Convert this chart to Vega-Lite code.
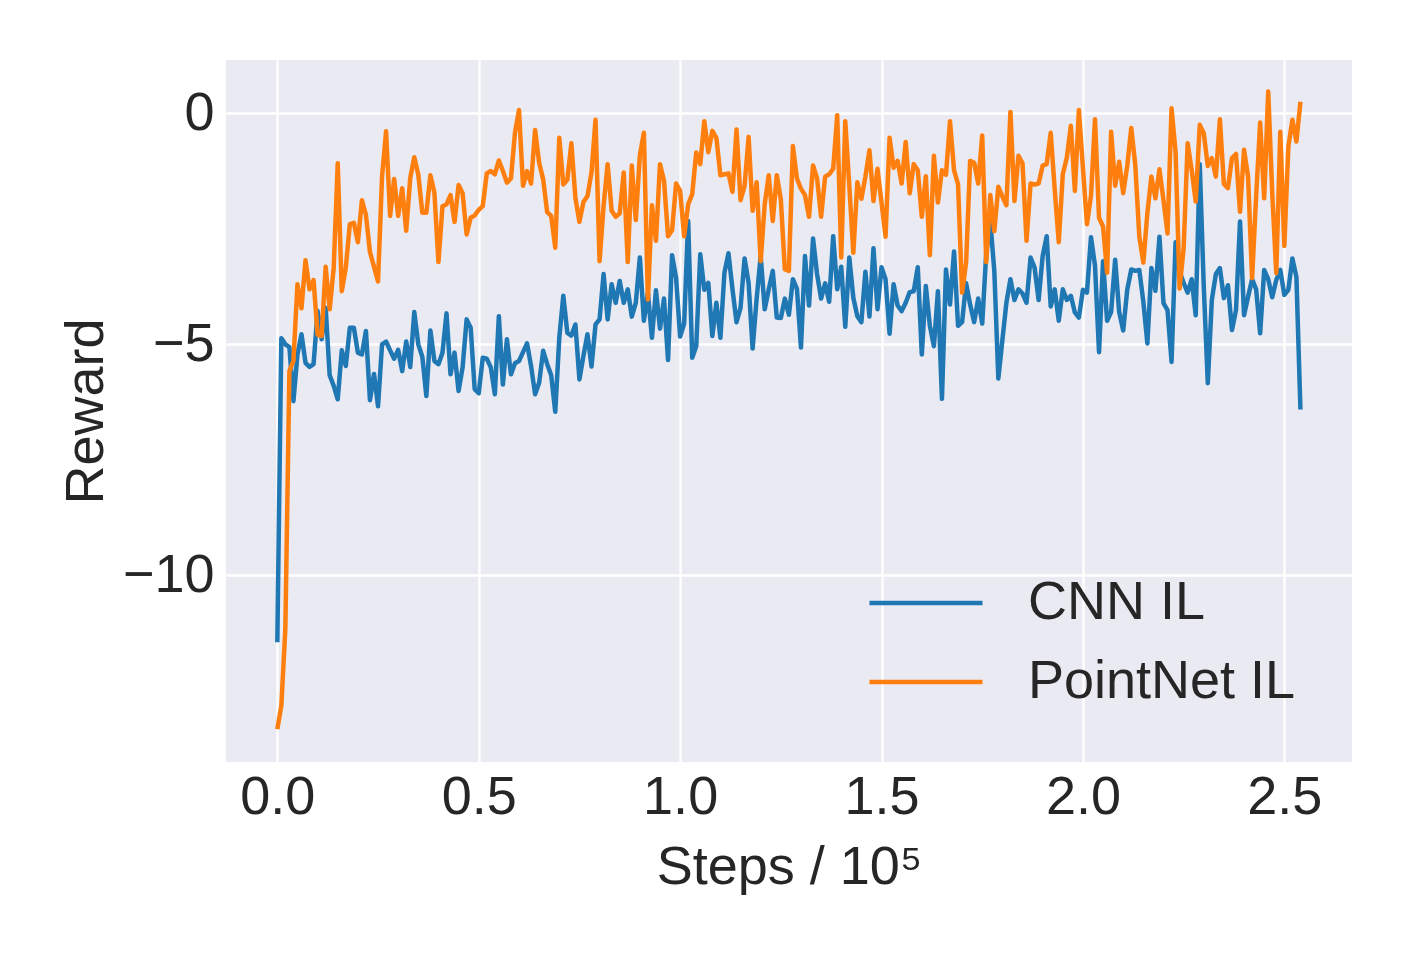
{
"$schema": "https://vega.github.io/schema/vega-lite/v6.json",
"width": 1126, "height": 702,
"autosize": "none",
"padding": {"left": 226, "top": 60, "right": 59, "bottom": 198},
"background": "white",
"data": {"values": [
{"x":0.00,"CNN IL":-11.45,"PointNet IL":-13.33},{"x":0.01,"CNN IL":-4.87,"PointNet IL":-12.82},{"x":0.02,"CNN IL":-5.0,"PointNet IL":-11.14},{"x":0.03,"CNN IL":-5.06,"PointNet IL":-5.58},{"x":0.04,"CNN IL":-6.23,"PointNet IL":-5.36},{"x":0.05,"CNN IL":-5.22,"PointNet IL":-3.7},{"x":0.06,"CNN IL":-4.78,"PointNet IL":-4.22},{"x":0.07,"CNN IL":-5.4,"PointNet IL":-3.18},{"x":0.08,"CNN IL":-5.49,"PointNet IL":-3.81},{"x":0.09,"CNN IL":-5.43,"PointNet IL":-3.61},
{"x":0.10,"CNN IL":-4.28,"PointNet IL":-4.79},{"x":0.11,"CNN IL":-4.89,"PointNet IL":-4.82},{"x":0.12,"CNN IL":-4.21,"PointNet IL":-3.32},{"x":0.13,"CNN IL":-5.67,"PointNet IL":-4.24},{"x":0.14,"CNN IL":-5.9,"PointNet IL":-3.34},{"x":0.15,"CNN IL":-6.19,"PointNet IL":-1.08},{"x":0.16,"CNN IL":-5.13,"PointNet IL":-3.85},{"x":0.17,"CNN IL":-5.47,"PointNet IL":-3.34},{"x":0.18,"CNN IL":-4.64,"PointNet IL":-2.4},{"x":0.19,"CNN IL":-4.64,"PointNet IL":-2.37},
{"x":0.20,"CNN IL":-5.18,"PointNet IL":-2.79},{"x":0.21,"CNN IL":-5.22,"PointNet IL":-1.88},{"x":0.22,"CNN IL":-4.71,"PointNet IL":-2.2},{"x":0.23,"CNN IL":-6.21,"PointNet IL":-3.0},{"x":0.24,"CNN IL":-5.64,"PointNet IL":-3.32},{"x":0.25,"CNN IL":-6.34,"PointNet IL":-3.64},{"x":0.26,"CNN IL":-5.0,"PointNet IL":-1.37},{"x":0.27,"CNN IL":-4.94,"PointNet IL":-0.39},{"x":0.28,"CNN IL":-5.13,"PointNet IL":-2.22},{"x":0.29,"CNN IL":-5.31,"PointNet IL":-1.42},
{"x":0.30,"CNN IL":-5.12,"PointNet IL":-2.22},{"x":0.31,"CNN IL":-5.58,"PointNet IL":-1.62},{"x":0.32,"CNN IL":-4.94,"PointNet IL":-2.54},{"x":0.33,"CNN IL":-5.49,"PointNet IL":-1.4},{"x":0.34,"CNN IL":-4.3,"PointNet IL":-0.95},{"x":0.35,"CNN IL":-5.0,"PointNet IL":-1.33},{"x":0.36,"CNN IL":-5.27,"PointNet IL":-2.15},{"x":0.37,"CNN IL":-6.12,"PointNet IL":-2.15},{"x":0.38,"CNN IL":-4.7,"PointNet IL":-1.34},{"x":0.39,"CNN IL":-5.36,"PointNet IL":-1.72},
{"x":0.40,"CNN IL":-5.43,"PointNet IL":-3.22},{"x":0.41,"CNN IL":-5.18,"PointNet IL":-2.01},{"x":0.42,"CNN IL":-4.33,"PointNet IL":-1.97},{"x":0.43,"CNN IL":-5.65,"PointNet IL":-1.77},{"x":0.44,"CNN IL":-5.18,"PointNet IL":-2.35},{"x":0.45,"CNN IL":-6.01,"PointNet IL":-1.55},{"x":0.46,"CNN IL":-5.5,"PointNet IL":-1.73},{"x":0.47,"CNN IL":-4.46,"PointNet IL":-2.62},{"x":0.48,"CNN IL":-4.64,"PointNet IL":-2.26},{"x":0.49,"CNN IL":-5.97,"PointNet IL":-2.21},
{"x":0.50,"CNN IL":-6.06,"PointNet IL":-2.09},{"x":0.51,"CNN IL":-5.29,"PointNet IL":-2.01},{"x":0.52,"CNN IL":-5.31,"PointNet IL":-1.3},{"x":0.53,"CNN IL":-5.5,"PointNet IL":-1.25},{"x":0.54,"CNN IL":-6.08,"PointNet IL":-1.32},{"x":0.55,"CNN IL":-4.39,"PointNet IL":-1.02},{"x":0.56,"CNN IL":-5.87,"PointNet IL":-1.25},{"x":0.57,"CNN IL":-4.89,"PointNet IL":-1.5},{"x":0.58,"CNN IL":-5.65,"PointNet IL":-1.41},{"x":0.59,"CNN IL":-5.41,"PointNet IL":-0.42},
{"x":0.60,"CNN IL":-5.36,"PointNet IL":0.07},{"x":0.61,"CNN IL":-5.17,"PointNet IL":-1.57},{"x":0.62,"CNN IL":-4.98,"PointNet IL":-1.25},{"x":0.63,"CNN IL":-5.47,"PointNet IL":-1.52},{"x":0.64,"CNN IL":-6.08,"PointNet IL":-0.36},{"x":0.65,"CNN IL":-5.83,"PointNet IL":-1.07},{"x":0.66,"CNN IL":-5.14,"PointNet IL":-1.43},{"x":0.67,"CNN IL":-5.43,"PointNet IL":-2.14},{"x":0.68,"CNN IL":-5.67,"PointNet IL":-2.22},{"x":0.69,"CNN IL":-6.46,"PointNet IL":-2.91},
{"x":0.70,"CNN IL":-4.86,"PointNet IL":-0.53},{"x":0.71,"CNN IL":-3.95,"PointNet IL":-1.54},{"x":0.72,"CNN IL":-4.75,"PointNet IL":-1.44},{"x":0.73,"CNN IL":-4.81,"PointNet IL":-0.65},{"x":0.74,"CNN IL":-4.57,"PointNet IL":-1.83},{"x":0.75,"CNN IL":-5.76,"PointNet IL":-2.35},{"x":0.76,"CNN IL":-5.25,"PointNet IL":-1.92},{"x":0.77,"CNN IL":-4.78,"PointNet IL":-1.79},{"x":0.78,"CNN IL":-5.48,"PointNet IL":-1.28},{"x":0.79,"CNN IL":-4.57,"PointNet IL":-0.14},
{"x":0.80,"CNN IL":-4.46,"PointNet IL":-3.2},{"x":0.81,"CNN IL":-3.48,"PointNet IL":-2.0},{"x":0.82,"CNN IL":-4.46,"PointNet IL":-1.1},{"x":0.83,"CNN IL":-3.7,"PointNet IL":-2.11},{"x":0.84,"CNN IL":-4.1,"PointNet IL":-2.24},{"x":0.85,"CNN IL":-3.63,"PointNet IL":-2.17},{"x":0.86,"CNN IL":-4.1,"PointNet IL":-1.28},{"x":0.87,"CNN IL":-3.81,"PointNet IL":-3.22},{"x":0.88,"CNN IL":-4.4,"PointNet IL":-1.13},{"x":0.89,"CNN IL":-4.1,"PointNet IL":-2.31},
{"x":0.90,"CNN IL":-3.12,"PointNet IL":-0.91},{"x":0.91,"CNN IL":-4.49,"PointNet IL":-0.42},{"x":0.92,"CNN IL":-3.88,"PointNet IL":-4.03},{"x":0.93,"CNN IL":-4.86,"PointNet IL":-1.99},{"x":0.94,"CNN IL":-3.83,"PointNet IL":-2.76},{"x":0.95,"CNN IL":-4.66,"PointNet IL":-1.1},{"x":0.96,"CNN IL":-4.01,"PointNet IL":-1.46},{"x":0.97,"CNN IL":-5.34,"PointNet IL":-2.66},{"x":0.98,"CNN IL":-3.07,"PointNet IL":-2.53},{"x":0.99,"CNN IL":-3.56,"PointNet IL":-1.52},
{"x":1.00,"CNN IL":-4.83,"PointNet IL":-1.68},{"x":1.01,"CNN IL":-4.55,"PointNet IL":-2.66},{"x":1.02,"CNN IL":-2.33,"PointNet IL":-1.97},{"x":1.03,"CNN IL":-5.29,"PointNet IL":-1.75},{"x":1.04,"CNN IL":-5.04,"PointNet IL":-0.85},{"x":1.05,"CNN IL":-3.05,"PointNet IL":-1.1},{"x":1.06,"CNN IL":-3.82,"PointNet IL":-0.17},{"x":1.07,"CNN IL":-3.67,"PointNet IL":-0.84},{"x":1.08,"CNN IL":-4.82,"PointNet IL":-0.38},{"x":1.09,"CNN IL":-4.1,"PointNet IL":-0.53},
{"x":1.10,"CNN IL":-4.86,"PointNet IL":-1.34},{"x":1.11,"CNN IL":-3.45,"PointNet IL":-1.32},{"x":1.12,"CNN IL":-3.03,"PointNet IL":-1.3},{"x":1.13,"CNN IL":-3.81,"PointNet IL":-1.7},{"x":1.14,"CNN IL":-4.52,"PointNet IL":-0.35},{"x":1.15,"CNN IL":-4.21,"PointNet IL":-1.88},{"x":1.16,"CNN IL":-3.14,"PointNet IL":-1.57},{"x":1.17,"CNN IL":-3.67,"PointNet IL":-0.51},{"x":1.18,"CNN IL":-5.09,"PointNet IL":-2.11},{"x":1.19,"CNN IL":-4.01,"PointNet IL":-1.49},
{"x":1.20,"CNN IL":-3.09,"PointNet IL":-3.2},{"x":1.21,"CNN IL":-4.24,"PointNet IL":-1.97},{"x":1.22,"CNN IL":-3.81,"PointNet IL":-1.34},{"x":1.23,"CNN IL":-3.41,"PointNet IL":-2.33},{"x":1.24,"CNN IL":-4.42,"PointNet IL":-1.34},{"x":1.25,"CNN IL":-4.43,"PointNet IL":-1.86},{"x":1.26,"CNN IL":-4.01,"PointNet IL":-3.38},{"x":1.27,"CNN IL":-4.36,"PointNet IL":-3.41},{"x":1.28,"CNN IL":-3.59,"PointNet IL":-0.71},{"x":1.29,"CNN IL":-3.8,"PointNet IL":-1.41},
{"x":1.30,"CNN IL":-5.07,"PointNet IL":-1.63},{"x":1.31,"CNN IL":-3.09,"PointNet IL":-1.77},{"x":1.32,"CNN IL":-4.16,"PointNet IL":-2.24},{"x":1.33,"CNN IL":-2.71,"PointNet IL":-1.13},{"x":1.34,"CNN IL":-3.48,"PointNet IL":-1.41},{"x":1.35,"CNN IL":-4.01,"PointNet IL":-2.24},{"x":1.36,"CNN IL":-3.68,"PointNet IL":-1.37},{"x":1.37,"CNN IL":-4.08,"PointNet IL":-1.32},{"x":1.38,"CNN IL":-2.66,"PointNet IL":-1.2},{"x":1.39,"CNN IL":-3.81,"PointNet IL":-0.04},
{"x":1.40,"CNN IL":-3.32,"PointNet IL":-3.12},{"x":1.41,"CNN IL":-4.62,"PointNet IL":-0.17},{"x":1.42,"CNN IL":-3.12,"PointNet IL":-1.57},{"x":1.43,"CNN IL":-3.99,"PointNet IL":-3.02},{"x":1.44,"CNN IL":-4.39,"PointNet IL":-1.49},{"x":1.45,"CNN IL":-4.52,"PointNet IL":-1.85},{"x":1.46,"CNN IL":-3.43,"PointNet IL":-1.37},{"x":1.47,"CNN IL":-4.4,"PointNet IL":-0.8},{"x":1.48,"CNN IL":-2.92,"PointNet IL":-1.9},{"x":1.49,"CNN IL":-4.24,"PointNet IL":-1.2},
{"x":1.50,"CNN IL":-3.33,"PointNet IL":-1.93},{"x":1.51,"CNN IL":-3.59,"PointNet IL":-2.67},{"x":1.52,"CNN IL":-4.77,"PointNet IL":-0.53},{"x":1.53,"CNN IL":-3.7,"PointNet IL":-1.18},{"x":1.54,"CNN IL":-4.16,"PointNet IL":-1.03},{"x":1.55,"CNN IL":-4.28,"PointNet IL":-1.52},{"x":1.56,"CNN IL":-4.1,"PointNet IL":-0.62},{"x":1.57,"CNN IL":-3.87,"PointNet IL":-1.73},{"x":1.58,"CNN IL":-3.85,"PointNet IL":-1.1},{"x":1.59,"CNN IL":-3.33,"PointNet IL":-1.23},
{"x":1.60,"CNN IL":-5.22,"PointNet IL":-2.24},{"x":1.61,"CNN IL":-3.74,"PointNet IL":-1.36},{"x":1.62,"CNN IL":-4.6,"PointNet IL":-3.07},{"x":1.63,"CNN IL":-5.04,"PointNet IL":-0.92},{"x":1.64,"CNN IL":-3.85,"PointNet IL":-1.93},{"x":1.65,"CNN IL":-6.18,"PointNet IL":-1.23},{"x":1.66,"CNN IL":-3.38,"PointNet IL":-1.33},{"x":1.67,"CNN IL":-4.14,"PointNet IL":-0.17},{"x":1.68,"CNN IL":-2.99,"PointNet IL":-1.23},{"x":1.69,"CNN IL":-4.6,"PointNet IL":-1.54},
{"x":1.70,"CNN IL":-4.52,"PointNet IL":-3.88},{"x":1.71,"CNN IL":-3.68,"PointNet IL":-3.23},{"x":1.72,"CNN IL":-4.14,"PointNet IL":-1.03},{"x":1.73,"CNN IL":-4.52,"PointNet IL":-1.07},{"x":1.74,"CNN IL":-4.01,"PointNet IL":-1.52},{"x":1.75,"CNN IL":-4.55,"PointNet IL":-0.48},{"x":1.76,"CNN IL":-3.02,"PointNet IL":-3.22},{"x":1.77,"CNN IL":-2.33,"PointNet IL":-1.77},{"x":1.78,"CNN IL":-3.41,"PointNet IL":-2.55},{"x":1.79,"CNN IL":-5.74,"PointNet IL":-1.59},
{"x":1.80,"CNN IL":-4.91,"PointNet IL":-1.8},{"x":1.81,"CNN IL":-4.1,"PointNet IL":-1.99},{"x":1.82,"CNN IL":-3.59,"PointNet IL":0.03},{"x":1.83,"CNN IL":-4.04,"PointNet IL":-1.9},{"x":1.84,"CNN IL":-3.81,"PointNet IL":-0.92},{"x":1.85,"CNN IL":-3.9,"PointNet IL":-1.08},{"x":1.86,"CNN IL":-4.1,"PointNet IL":-2.76},{"x":1.87,"CNN IL":-3.12,"PointNet IL":-1.52},{"x":1.88,"CNN IL":-3.34,"PointNet IL":-1.54},{"x":1.89,"CNN IL":-4.04,"PointNet IL":-1.52},
{"x":1.90,"CNN IL":-3.09,"PointNet IL":-1.13},{"x":1.91,"CNN IL":-2.66,"PointNet IL":-1.1},{"x":1.92,"CNN IL":-4.18,"PointNet IL":-0.42},{"x":1.93,"CNN IL":-3.81,"PointNet IL":-1.65},{"x":1.94,"CNN IL":-4.49,"PointNet IL":-2.79},{"x":1.95,"CNN IL":-3.81,"PointNet IL":-1.32},{"x":1.96,"CNN IL":-4.04,"PointNet IL":-0.96},{"x":1.97,"CNN IL":-3.95,"PointNet IL":-0.27},{"x":1.98,"CNN IL":-4.31,"PointNet IL":-1.68},{"x":1.99,"CNN IL":-4.42,"PointNet IL":0.07},
{"x":2.00,"CNN IL":-3.82,"PointNet IL":-1.18},{"x":2.01,"CNN IL":-3.88,"PointNet IL":-2.4},{"x":2.02,"CNN IL":-2.68,"PointNet IL":-1.79},{"x":2.03,"CNN IL":-3.3,"PointNet IL":-0.13},{"x":2.04,"CNN IL":-5.17,"PointNet IL":-2.26},{"x":2.05,"CNN IL":-3.2,"PointNet IL":-2.45},{"x":2.06,"CNN IL":-4.49,"PointNet IL":-3.45},{"x":2.07,"CNN IL":-4.3,"PointNet IL":-0.4},{"x":2.08,"CNN IL":-3.17,"PointNet IL":-1.57},{"x":2.09,"CNN IL":-4.3,"PointNet IL":-1.05},
{"x":2.10,"CNN IL":-4.7,"PointNet IL":-1.73},{"x":2.11,"CNN IL":-3.82,"PointNet IL":-1.14},{"x":2.12,"CNN IL":-3.38,"PointNet IL":-0.32},{"x":2.13,"CNN IL":-3.41,"PointNet IL":-1.12},{"x":2.14,"CNN IL":-3.39,"PointNet IL":-2.67},{"x":2.15,"CNN IL":-4.08,"PointNet IL":-3.23},{"x":2.16,"CNN IL":-4.98,"PointNet IL":-2.16},{"x":2.17,"CNN IL":-3.35,"PointNet IL":-1.37},{"x":2.18,"CNN IL":-3.84,"PointNet IL":-1.84},{"x":2.19,"CNN IL":-2.67,"PointNet IL":-1.21},
{"x":2.20,"CNN IL":-4.11,"PointNet IL":-1.88},{"x":2.21,"CNN IL":-4.26,"PointNet IL":-2.6},{"x":2.22,"CNN IL":-5.38,"PointNet IL":0.11},{"x":2.23,"CNN IL":-2.79,"PointNet IL":-0.83},{"x":2.24,"CNN IL":-3.43,"PointNet IL":-3.79},{"x":2.25,"CNN IL":-3.67,"PointNet IL":-2.92},{"x":2.26,"CNN IL":-3.88,"PointNet IL":-0.65},{"x":2.27,"CNN IL":-3.59,"PointNet IL":-1.23},{"x":2.28,"CNN IL":-4.37,"PointNet IL":-1.91},{"x":2.29,"CNN IL":-1.1,"PointNet IL":-0.25},
{"x":2.30,"CNN IL":-3.75,"PointNet IL":-0.43},{"x":2.31,"CNN IL":-5.84,"PointNet IL":-1.14},{"x":2.32,"CNN IL":-4.04,"PointNet IL":-0.97},{"x":2.33,"CNN IL":-3.48,"PointNet IL":-1.37},{"x":2.34,"CNN IL":-3.35,"PointNet IL":-0.13},{"x":2.35,"CNN IL":-4.0,"PointNet IL":-1.53},{"x":2.36,"CNN IL":-3.72,"PointNet IL":-1.62},{"x":2.37,"CNN IL":-4.69,"PointNet IL":-0.97},{"x":2.38,"CNN IL":-4.26,"PointNet IL":-0.88},{"x":2.39,"CNN IL":-2.34,"PointNet IL":-2.13},
{"x":2.40,"CNN IL":-4.37,"PointNet IL":-0.79},{"x":2.41,"CNN IL":-3.97,"PointNet IL":-1.37},{"x":2.42,"CNN IL":-3.59,"PointNet IL":-3.57},{"x":2.43,"CNN IL":-3.81,"PointNet IL":-1.8},{"x":2.44,"CNN IL":-4.76,"PointNet IL":-0.2},{"x":2.45,"CNN IL":-3.39,"PointNet IL":-1.84},{"x":2.46,"CNN IL":-3.59,"PointNet IL":0.47},{"x":2.47,"CNN IL":-3.98,"PointNet IL":-1.73},{"x":2.48,"CNN IL":-3.61,"PointNet IL":-3.46},{"x":2.49,"CNN IL":-3.39,"PointNet IL":-0.4},
{"x":2.50,"CNN IL":-3.93,"PointNet IL":-2.87},{"x":2.51,"CNN IL":-3.82,"PointNet IL":-0.72},{"x":2.52,"CNN IL":-3.14,"PointNet IL":-0.14},{"x":2.53,"CNN IL":-3.54,"PointNet IL":-0.61},{"x":2.54,"CNN IL":-6.41,"PointNet IL":0.25}
]},
"transform": [{"fold": ["CNN IL", "PointNet IL"], "as": ["series", "reward"]}],
"mark": {"type": "line", "strokeWidth": 4.5, "strokeJoin": "round"},
"encoding": {
  "x": {"field": "x", "type": "quantitative",
        "scale": {"domain": [-0.1274, 2.668], "nice": false, "zero": false},
        "axis": {"values": [0, 0.5, 1, 1.5, 2, 2.5], "format": ".1f", "title": "Steps / 10⁵", "labelFlush": false, "labelOverlap": false}},
  "y": {"field": "reward", "type": "quantitative",
        "scale": {"domain": [-14.04, 1.154], "nice": false, "zero": false},
        "axis": {"values": [-10, -5, 0], "title": "Reward", "labelOverlap": false}},
  "color": {"field": "series", "type": "nominal",
        "scale": {"domain": ["CNN IL", "PointNet IL"], "range": ["#1f77b4", "#ff7f0e"]},
        "legend": {"title": null, "orient": "none", "legendX": 673, "legendY": 516,
                   "symbolType": "M-3,0H3", "symbolSize": 1420, "symbolStrokeWidth": 4.5,
                   "labelFontSize": 54, "labelFont": "Liberation Sans", "labelColor": "#262626",
                   "labelLimit": 0, "labelOffset": 75, "rowPadding": 25, "padding": 0}}
},
"config": {
  "view": {"fill": "#EAEAF2", "stroke": null},
  "axis": {"domain": false, "ticks": false, "grid": true, "gridColor": "#FFFFFF", "gridWidth": 2.3,
           "labelFont": "Liberation Sans", "labelFontSize": 54, "labelColor": "#262626",
           "titleFont": "Liberation Sans", "titleFontSize": 54, "titleFontWeight": "normal", "titleColor": "#262626"},
  "axisX": {"labelPadding": 8, "titlePadding": 16},
  "axisY": {"labelPadding": 12, "titlePadding": 9}
}
}
